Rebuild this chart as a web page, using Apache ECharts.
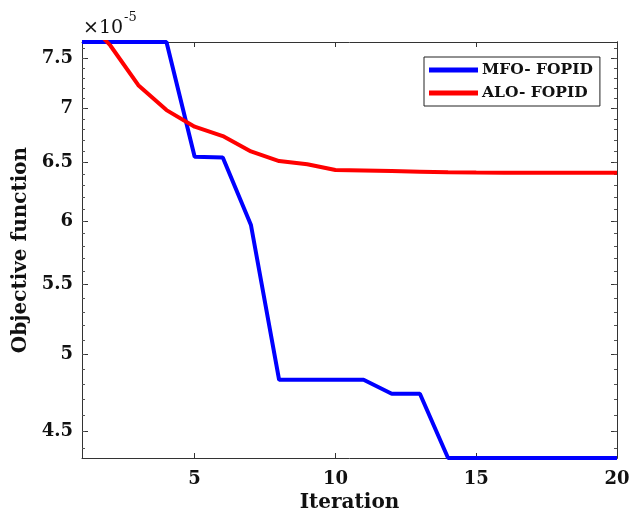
<!DOCTYPE html>
<html>
<head>
<meta charset="utf-8">
<script src="https://cdn.jsdelivr.net/npm/echarts@6/dist/echarts.min.js"></script>
<style>
  html, body { margin: 0; padding: 0; background: #fff; }
  #chart { width: 631px; height: 514px; }
</style>
</head>
<body>
<div id="chart"></div>
<script>
// iterations and objective values (in units of 1e-5)
const iterations = [1, 2, 3, 4, 5, 6, 7, 8, 9, 10, 11, 12, 13, 14, 15, 16, 17, 18, 19, 20];
const mfoValues = [7.666, 7.666, 7.666, 7.666, 6.552, 6.545, 5.968, 4.829, 4.829, 4.829,
                   4.829, 4.738, 4.738, 4.339, 4.339, 4.339, 4.339, 4.339, 4.339, 4.339];
const aloValues = [7.95, 7.632, 7.226, 6.984, 6.827, 6.74, 6.60, 6.514, 6.485, 6.434,
                   6.43, 6.425, 6.42, 6.415, 6.412, 6.41, 6.41, 6.41, 6.41, 6.41];
const xTicks = [5, 10, 15, 20];
const yTicks = [4.5, 5, 5.5, 6, 6.5, 7, 7.5];
const yMinorTicks = [4.4, 4.5, 4.6, 4.7, 4.8, 4.9, 5, 5.1, 5.2, 5.3, 5.4, 5.5, 5.6, 5.7, 5.8, 5.9,
                     6, 6.1, 6.2, 6.3, 6.4, 6.5, 6.6, 6.7, 6.8, 6.9, 7, 7.1, 7.2, 7.3, 7.4, 7.5, 7.6];
const yMin = 4.339, yMax = 7.666;

const font = 'DejaVu Serif';
const pair = vals => iterations.map((x, i) => [x, vals[i]]);

let myChart = echarts.init(document.getElementById('chart'));

const baseY = {
  type: 'log',
  min: yMin,
  max: yMax,
  axisLine: { show: true, lineStyle: { color: '#333', width: 1 } },
  splitLine: { show: false },
  axisLabel: { show: false },
  axisTick: { show: false }
};

myChart.setOption({
  animation: false,
  backgroundColor: '#fff',
  grid: { left: 82, right: 14, top: 42, bottom: 56, outerBoundsMode: 'none' },
  legend: {
    data: ['MFO- FOPID', 'ALO- FOPID'],
    orient: 'vertical',
    left: 424,
    top: 57,
    padding: [5, 7, 5, 5],
    itemGap: 7,
    itemWidth: 49,
    itemHeight: 5,
    icon: 'rect',
    backgroundColor: '#fff',
    borderColor: '#222',
    borderWidth: 1,
    textStyle: { fontFamily: font, fontWeight: 'bold', fontSize: 15.5, color: '#111', padding: [0, 0, 0, -1] }
  },
  graphic: [
    { type: 'text', left: 83, top: 19, style: { text: '×10', fontFamily: font, fontSize: 19, fill: '#111' } },
    { type: 'text', left: 124, top: 11, style: { text: '-5', fontFamily: font, fontSize: 13, fill: '#111' } }
  ],
  xAxis: [
    {
      type: 'value',
      min: 1,
      max: 20,
      name: 'Iteration',
      nameLocation: 'middle',
      nameGap: 33,
      nameTextStyle: { fontFamily: font, fontWeight: 'bold', fontSize: 20, color: '#111' },
      axisLine: { show: true, lineStyle: { color: '#333' } },
      axisTick: { inside: true, length: 5, customValues: xTicks, lineStyle: { color: '#333' } },
      axisLabel: { customValues: xTicks, margin: 12, fontFamily: font, fontWeight: 'bold', fontSize: 18, color: '#111' },
      splitLine: { show: false }
    },
    {
      type: 'value',
      position: 'top',
      min: 1,
      max: 20,
      axisLine: { show: true, onZero: false, lineStyle: { color: '#333' } },
      axisTick: { inside: true, length: 5, customValues: xTicks, lineStyle: { color: '#333' } },
      axisLabel: { show: false },
      splitLine: { show: false }
    }
  ],
  yAxis: [
    Object.assign({}, baseY, {
      position: 'left',
      name: 'Objective function',
      nameLocation: 'middle',
      nameGap: 50,
      nameTextStyle: { fontFamily: font, fontWeight: 'bold', fontSize: 20, color: '#111' },
      axisTick: { show: true, inside: true, length: 6, customValues: yTicks, lineStyle: { color: '#333' } },
      axisLabel: {
        show: true,
        customValues: yTicks,
        margin: 9,
        fontFamily: font, fontWeight: 'bold', fontSize: 18, color: '#111',
        formatter: v => String(Math.round(v * 10) / 10)
      }
    }),
    Object.assign({}, baseY, {
      position: 'left',
      axisTick: { show: true, inside: true, length: 3, customValues: yMinorTicks, lineStyle: { color: '#555' } }
    }),
    Object.assign({}, baseY, {
      position: 'right',
      axisTick: { show: true, inside: true, length: 6, customValues: yTicks, lineStyle: { color: '#333' } }
    }),
    Object.assign({}, baseY, {
      position: 'right',
      axisTick: { show: true, inside: true, length: 3, customValues: yMinorTicks, lineStyle: { color: '#555' } }
    })
  ],
  series: [
    {
      name: 'MFO- FOPID',
      type: 'line',
      data: pair(mfoValues),
      showSymbol: false,
      clip: true,
      color: '#0000ff',
      lineStyle: { width: 4, color: '#0000ff' }
    },
    {
      name: 'ALO- FOPID',
      type: 'line',
      data: pair(aloValues),
      showSymbol: false,
      clip: true,
      color: '#ff0000',
      lineStyle: { width: 4, color: '#ff0000' }
    }
  ]
});
</script>
</body>
</html>
